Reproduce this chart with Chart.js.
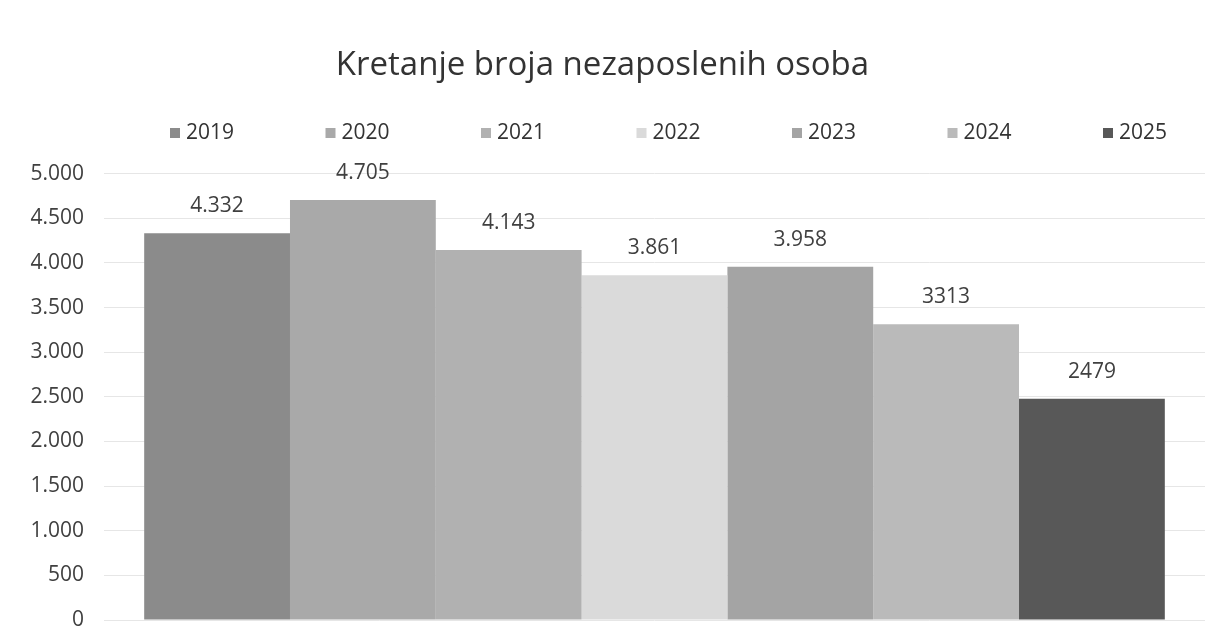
<!DOCTYPE html>
<html>
<head>
<meta charset="utf-8">
<script src="https://cdn.jsdelivr.net/npm/chart.js@4/dist/chart.umd.min.js"></script>
<style>
    html, body {
        margin: 0;
        padding: 0;
        background: #ffffff;
    }
    .chart_box {
        width: 1218px;
        height: 644px;
    }
</style>
</head>
<body>
<div class="chart_box">
    <canvas id="nezaposleni" width="1218" height="644"></canvas>
</div>
<script>
    const YEARS = ["2019", "2020", "2021", "2022", "2023", "2024", "2025"];
    const VALUES = [4332, 4705, 4143, 3861, 3958, 3313, 2479];
    // labels exactly as printed above the bars
    const VALUE_LABELS = ["4.332", "4.705", "4.143", "3.861", "3.958", "3313", "2479"];
    const COLORS = ["#8b8b8b", "#a9a9a9", "#b1b1b1", "#dadada", "#a4a4a4", "#bababa", "#585858"];
    const Y_MIN = 0;
    const Y_MAX = 5000;
    const Y_STEP = 500;

    const FONT = "'Open Sans', 'Noto Sans', sans-serif";

    function thousands(v) {
        return String(v).replace(/\B(?=(\d{3})+(?!\d))/g, ".");
    }

    // values above each bar
    const valueLabels = {
        id: "valueLabels",
        afterDatasetsDraw(chart) {
            const ctx = chart.ctx;
            ctx.save();
            ctx.font = "21px " + FONT;
            ctx.fillStyle = "#404040";
            ctx.textAlign = "center";
            ctx.textBaseline = "middle";
            chart.data.datasets.forEach((ds, i) => {
                const bar = chart.getDatasetMeta(i).data[0];
                ctx.fillText(VALUE_LABELS[i], bar.x, bar.y - 27);
            });
            ctx.restore();
        },
    };

    // legend row, spread out like the original
    const spreadLegend = {
        id: "spreadLegend",
        afterDraw(chart) {
            const ctx = chart.ctx;
            ctx.save();
            ctx.font = "21px " + FONT;
            ctx.textBaseline = "middle";
            ctx.textAlign = "left";
            chart.data.datasets.forEach((ds, i) => {
                const x = 170 + i * 155.5;
                const y = 133;
                ctx.fillStyle = ds.backgroundColor;
                ctx.fillRect(x, y - 5, 10, 10);
                ctx.fillStyle = "#333333";
                ctx.fillText(ds.label, x + 16, y);
            });
            ctx.restore();
        },
    };

    const datasets = YEARS.map((year, i) => ({
        label: year,
        data: [VALUES[i]],
        backgroundColor: COLORS[i],
        borderWidth: 0,
        categoryPercentage: 0.927,
        barPercentage: 1.0,
    }));

    new Chart(document.getElementById("nezaposleni"), {
        type: "bar",
        data: {
            labels: ["Nezaposleni"],
            datasets: datasets,
        },
        options: {
            responsive: false,
            animation: false,
            layout: {
                padding: { left: 0, right: 13, top: 0, bottom: 24 },
            },
            plugins: {
                title: {
                    display: true,
                    text: "Kretanje broja nezaposlenih osoba",
                    color: "#333333",
                    font: { family: FONT, size: 33, weight: "normal" },
                    padding: { top: 46, bottom: 88 },
                },
                legend: { display: false },
                tooltip: { enabled: false },
            },
            scales: {
                x: {
                    display: false,
                },
                y: {
                    min: Y_MIN,
                    max: Y_MAX,
                    border: { display: false },
                    grid: {
                        color: "#e6e6e6",
                        drawTicks: false,
                    },
                    ticks: {
                        stepSize: Y_STEP,
                        padding: 20,
                        color: "#404040",
                        font: { family: FONT, size: 21 },
                        callback: (v) => thousands(v),
                    },
                    afterFit: (scale) => {
                        scale.width = 104;
                        scale.paddingTop = 0;
                        scale.paddingBottom = 0;
                    },
                },
            },
        },
        plugins: [valueLabels, spreadLegend],
    });
</script>
</body>
</html>
